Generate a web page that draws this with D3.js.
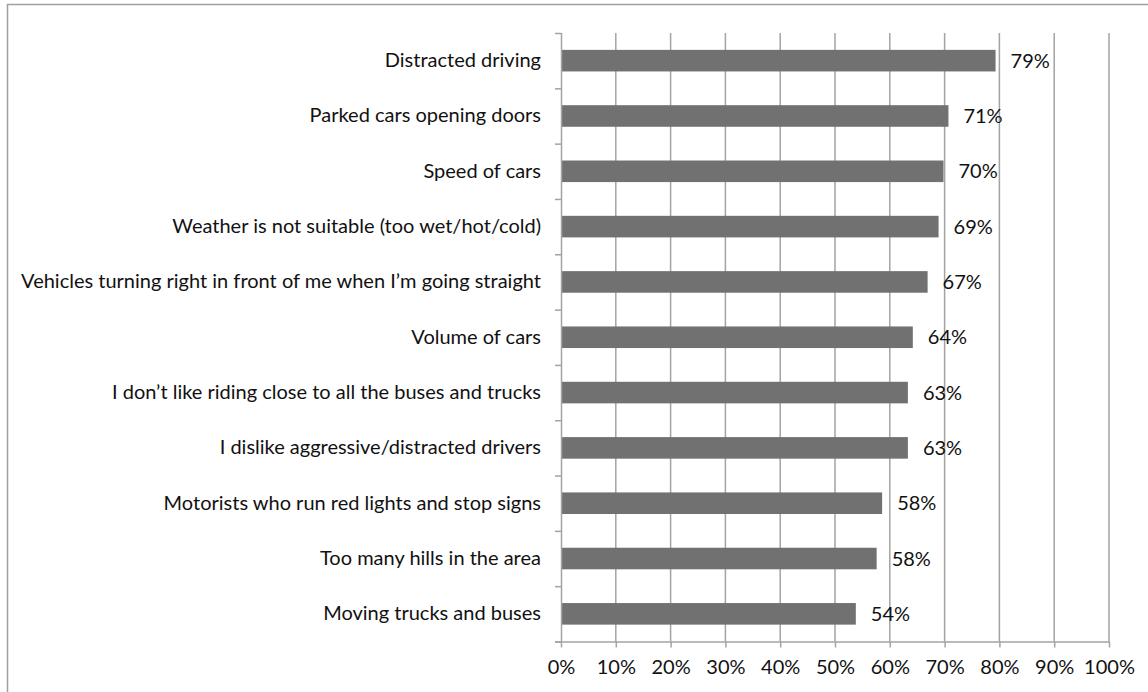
<!DOCTYPE html>
<html>
<head>
<meta charset="utf-8">
<script src="https://cdn.jsdelivr.net/npm/d3@7"></script>
<style>
    body { margin: 0; background: #fff; }
    svg text { font-family: Lato, "Open Sans", sans-serif; fill: #111; }
</style>
</head>
<body>
<svg id="canvas"></svg>
<script>
const categories = [
    "Distracted driving",
    "Parked cars opening doors",
    "Speed of cars",
    "Weather is not suitable (too wet/hot/cold)",
    "Vehicles turning right in front of me when I\u2019m going straight",
    "Volume of cars",
    "I don\u2019t like riding close to all the buses and trucks",
    "I dislike aggressive/distracted drivers",
    "Motorists who run red lights and stop signs",
    "Too many hills in the area",
    "Moving trucks and buses"
];
const values = [79.3, 70.7, 69.8, 68.9, 66.9, 64.2, 63.3, 63.3, 58.6, 57.6, 53.8];
const labels = ["79%", "71%", "70%", "69%", "67%", "64%", "63%", "63%", "58%", "58%", "54%"];
const xTicks = [0, 10, 20, 30, 40, 50, 60, 70, 80, 90, 100];

const width = 1148;
const height = 692;
const plotLeft = 561;
const plotRight = 1109;
const plotTop = 33;
const plotBottom = 641.5;
const fontSize = 20;
const gray = "#a3a3a3";

const canvas = d3.select("#canvas")
    .attr("width", width)
    .attr("height", height);

// outer frame (only left and top edges are visible)
canvas.append("path")
    .attr("d", `M7.5,${height} V4.5 H${width}`)
    .attr("fill", "none")
    .attr("stroke", "#a0a0a0")
    .attr("stroke-width", 1.5);

const xScale = d3.scaleLinear()
    .domain([0, 100])
    .range([plotLeft, plotRight]);
const yScale = d3.scaleBand()
    .domain(categories)
    .range([plotTop, plotBottom])
    .paddingInner(0.61)
    .paddingOuter(0.305);
const yEdges = d3.scaleLinear()
    .domain([0, categories.length])
    .range([plotTop, plotBottom]);

// gridlines
canvas.append("g")
    .selectAll("line")
    .data(xTicks.slice(1))
    .enter()
    .append("line")
    .attr("x1", d => xScale(d))
    .attr("x2", d => xScale(d))
    .attr("y1", plotTop)
    .attr("y2", plotBottom)
    .attr("stroke", gray)
    .attr("stroke-width", 1.5);

// bars
canvas.append("g")
    .selectAll("rect")
    .data(values)
    .enter()
    .append("rect")
    .attr("x", xScale(0))
    .attr("y", (d, i) => yScale(categories[i]))
    .attr("width", d => xScale(d) - xScale(0))
    .attr("height", yScale.bandwidth())
    .attr("fill", "#717171");

// data labels
canvas.append("g")
    .selectAll("text")
    .data(values)
    .enter()
    .append("text")
    .attr("x", d => xScale(d) + 15)
    .attr("y", (d, i) => yScale(categories[i]) + yScale.bandwidth() / 2)
    .attr("dy", "0.35em")
    .style("font-size", fontSize + "px")
    .text((d, i) => labels[i]);

// x axis
const xAxis = d3.axisBottom(xScale)
    .tickValues(xTicks)
    .tickSize(6)
    .tickPadding(12)
    .tickFormat(d => d + "%");
const gx = canvas.append("g")
    .attr("transform", `translate(0, ${plotBottom})`)
    .call(xAxis);
gx.select(".domain").attr("d", `M${plotLeft - 6},0.5H${plotRight}`);

// y axis: tick marks at category boundaries
const gyTicks = canvas.append("g")
    .attr("transform", `translate(${plotLeft}, 0)`)
    .call(d3.axisLeft(yEdges).tickValues(d3.range(categories.length + 1)).tickSize(6).tickFormat(""));
gyTicks.select(".domain").attr("d", `M0.5,${plotTop}V${plotBottom}`);

// y axis: category labels
const gyLabels = canvas.append("g")
    .attr("transform", `translate(${plotLeft}, 0)`)
    .call(d3.axisLeft(yScale).tickSize(0).tickPadding(20));
gyLabels.select(".domain").remove();

canvas.selectAll(".tick line, .domain")
    .attr("stroke", gray)
    .attr("stroke-width", 1.5);
canvas.selectAll(".tick text")
    .style("font-size", fontSize + "px")
    .style("font-family", "Lato, 'Open Sans', sans-serif")
    .attr("fill", "#111");
</script>
</body>
</html>
